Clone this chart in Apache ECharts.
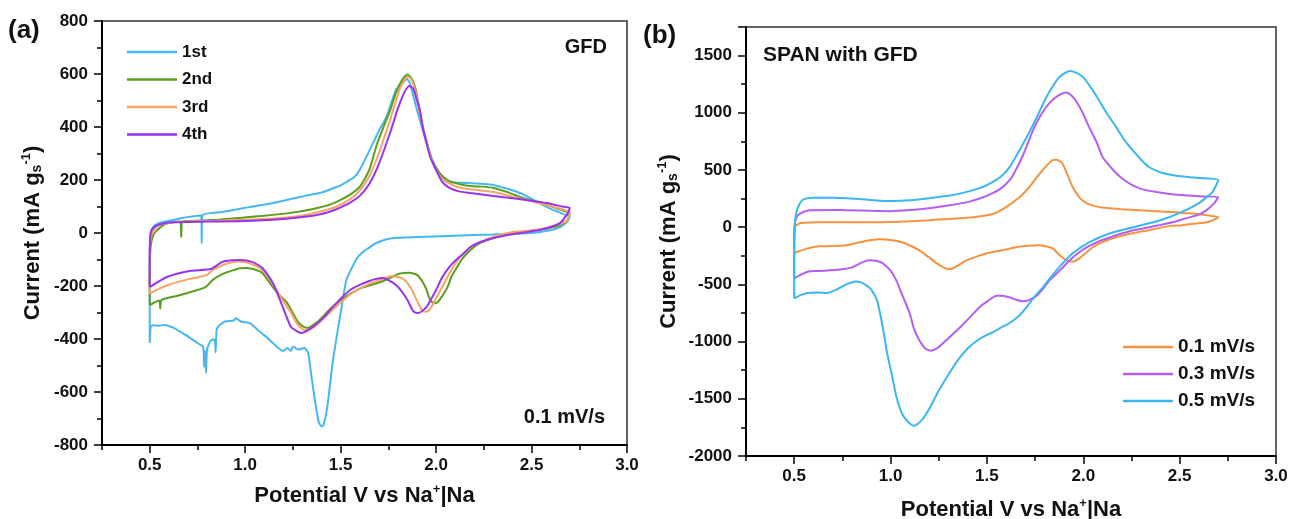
<!DOCTYPE html>
<html>
<head>
<meta charset="utf-8">
<script src="https://cdn.jsdelivr.net/npm/echarts@6/dist/echarts.min.js"></script>
<style>
html,body{margin:0;padding:0;background:#fff;}
#chart{width:1289px;height:519px;}
</style>
</head>
<body>
<div id="chart"></div>
<script>
// ---------- Data: panel (a) GFD at 0.1 mV/s, [potential V, current mA/g] ----------
const cycle1 = [[2.6,10],[2.53,2],[2.45,-2],[2.3,-6],[2.1,-10],[1.95,-14],[1.85,-17],[1.77,-20],[1.72,-28],[1.68,-40],[1.65,-55],[1.62,-70],[1.6,-83],[1.585,-95],[1.56,-130],[1.53,-177],[1.5,-302],[1.46,-479],[1.43,-657],[1.41,-725],[1.4,-730],[1.385,-712],[1.365,-630],[1.345,-530],[1.33,-453],[1.31,-434],[1.28,-440],[1.25,-428],[1.24,-445],[1.22,-434],[1.2,-445],[1.18,-438],[1.145,-415],[1.11,-392],[1.06,-362],[1.025,-340],[0.98,-335],[0.95,-322],[0.94,-330],[0.9,-333],[0.88,-340],[0.86,-352],[0.85,-366],[0.845,-450],[0.84,-402],[0.82,-405],[0.8,-441],[0.795,-528],[0.79,-445],[0.785,-505],[0.78,-430],[0.75,-415],[0.7,-390],[0.67,-377],[0.62,-356],[0.57,-347],[0.55,-350],[0.52,-348],[0.505,-355],[0.5,-415],[0.5,-350],[0.5,-100],[0.505,0],[0.52,25],[0.55,38],[0.6,46],[0.67,57],[0.72,62],[0.77,67],[0.772,-38],[0.776,66],[0.88,79],[1.0,95],[1.145,113],[1.3,138],[1.41,155],[1.45,166],[1.5,180],[1.53,192],[1.57,210],[1.6,238],[1.65,310],[1.7,385],[1.74,438],[1.79,540],[1.83,570],[1.845,582],[1.86,570],[1.88,520],[1.9,464],[1.95,340],[2.0,238],[2.06,192],[2.16,189],[2.25,185],[2.3,181],[2.44,151],[2.58,98],[2.68,68],[2.7,62],[2.69,45],[2.65,22],[2.6,10]];
const cycle2 = [[0.5,-272],[0.5,-150],[0.505,-50],[0.52,-5],[0.54,11],[0.57,30],[0.6,38],[0.66,43],[0.665,-15],[0.67,43],[0.71,45],[0.85,50],[0.97,57],[1.1,65],[1.23,75],[1.35,90],[1.44,106],[1.5,125],[1.55,145],[1.6,174],[1.65,238],[1.69,335],[1.73,410],[1.76,464],[1.79,530],[1.82,575],[1.85,598],[1.87,585],[1.89,550],[1.91,480],[1.93,400],[1.96,320],[1.98,275],[2.02,225],[2.06,200],[2.12,185],[2.18,177],[2.24,175],[2.3,170],[2.37,155],[2.44,136],[2.51,120],[2.58,106],[2.65,88],[2.7,75],[2.69,50],[2.65,30],[2.59,18],[2.53,11],[2.46,5],[2.39,0],[2.33,-12],[2.27,-26],[2.22,-42],[2.18,-64],[2.14,-95],[2.11,-128],[2.08,-165],[2.06,-204],[2.03,-240],[2.01,-260],[1.99,-265],[1.97,-255],[1.95,-215],[1.93,-185],[1.9,-158],[1.86,-150],[1.83,-151],[1.8,-155],[1.77,-166],[1.71,-185],[1.65,-198],[1.6,-210],[1.55,-230],[1.48,-264],[1.44,-290],[1.39,-328],[1.35,-350],[1.33,-358],[1.31,-355],[1.29,-345],[1.27,-328],[1.22,-264],[1.18,-235],[1.145,-204],[1.09,-151],[1.05,-138],[1.01,-132],[0.97,-133],[0.94,-140],[0.88,-155],[0.83,-177],[0.8,-200],[0.78,-208],[0.75,-215],[0.66,-234],[0.57,-250],[0.56,-255],[0.555,-285],[0.55,-255],[0.5,-272]];
const cycle3 = [[0.5,-230],[0.5,-100],[0.505,-20],[0.52,10],[0.55,30],[0.6,38],[0.7,43],[0.85,46],[1.0,50],[1.2,58],[1.3,66],[1.4,82],[1.48,100],[1.55,128],[1.6,160],[1.65,215],[1.7,300],[1.76,430],[1.81,545],[1.84,583],[1.855,590],[1.87,580],[1.89,540],[1.91,470],[1.93,400],[1.96,320],[1.98,270],[2.02,215],[2.06,190],[2.12,172],[2.18,165],[2.3,155],[2.44,130],[2.58,105],[2.68,85],[2.7,75],[2.69,50],[2.65,35],[2.53,12],[2.39,2],[2.27,-22],[2.2,-45],[2.15,-72],[2.11,-105],[2.08,-140],[2.05,-180],[2.02,-220],[1.99,-260],[1.97,-285],[1.95,-297],[1.93,-295],[1.91,-270],[1.89,-240],[1.87,-210],[1.84,-180],[1.81,-168],[1.76,-163],[1.7,-178],[1.65,-192],[1.6,-210],[1.55,-232],[1.5,-262],[1.45,-295],[1.4,-330],[1.36,-355],[1.32,-367],[1.3,-362],[1.27,-340],[1.24,-300],[1.2,-258],[1.16,-210],[1.13,-175],[1.09,-140],[1.05,-122],[1.0,-110],[0.97,-108],[0.92,-112],[0.88,-122],[0.83,-140],[0.8,-158],[0.76,-166],[0.7,-175],[0.6,-195],[0.55,-210],[0.5,-230]];
const cycle4 = [[0.5,-204],[0.5,-80],[0.505,0],[0.52,20],[0.55,32],[0.6,40],[0.8,43],[1.0,45],[1.2,53],[1.3,60],[1.4,72],[1.46,85],[1.5,97],[1.55,115],[1.6,140],[1.65,185],[1.7,260],[1.76,380],[1.8,470],[1.83,525],[1.85,550],[1.86,555],[1.88,545],[1.9,500],[1.915,464],[1.93,400],[1.95,340],[1.97,285],[2.0,238],[2.03,195],[2.07,170],[2.12,157],[2.18,151],[2.3,140],[2.39,132],[2.5,122],[2.58,113],[2.66,100],[2.7,94],[2.69,75],[2.65,38],[2.58,18],[2.48,4],[2.39,-6],[2.3,-19],[2.23,-35],[2.18,-53],[2.14,-80],[2.1,-105],[2.07,-128],[2.03,-170],[2.0,-215],[1.97,-255],[1.95,-279],[1.92,-298],[1.9,-302],[1.88,-295],[1.85,-253],[1.82,-220],[1.79,-196],[1.75,-178],[1.72,-170],[1.68,-174],[1.65,-181],[1.6,-196],[1.55,-215],[1.5,-248],[1.46,-279],[1.42,-312],[1.38,-340],[1.34,-362],[1.31,-374],[1.29,-377],[1.27,-370],[1.24,-355],[1.2,-285],[1.17,-230],[1.145,-189],[1.09,-132],[1.04,-110],[0.97,-102],[0.93,-103],[0.88,-109],[0.82,-136],[0.71,-143],[0.59,-166],[0.5,-204]];

// ---------- Data: panel (b) SPAN with GFD at three scan rates ----------
const rate01 = [[0.5,-228],[0.5,-100],[0.502,0],[0.53,35],[0.58,42],[0.63,44],[0.8,44],[0.944,44],[1.1,52],[1.2,61],[1.3,72],[1.43,88],[1.5,105],[1.55,128],[1.6,175],[1.67,263],[1.72,350],[1.76,439],[1.8,520],[1.84,585],[1.86,590],[1.89,561],[1.92,450],[1.945,351],[1.98,260],[2.016,210],[2.07,180],[2.12,167],[2.2,157],[2.29,149],[2.38,140],[2.46,132],[2.53,123],[2.6,114],[2.66,100],[2.7,88],[2.67,60],[2.64,44],[2.57,30],[2.51,18],[2.43,5],[2.34,-26],[2.25,-55],[2.17,-88],[2.1,-130],[2.05,-175],[2.01,-230],[1.98,-272],[1.95,-300],[1.93,-300],[1.91,-285],[1.89,-263],[1.86,-215],[1.84,-184],[1.8,-165],[1.77,-158],[1.71,-162],[1.65,-175],[1.6,-195],[1.55,-210],[1.5,-228],[1.45,-255],[1.395,-289],[1.35,-335],[1.31,-368],[1.28,-355],[1.24,-316],[1.2,-265],[1.15,-202],[1.1,-160],[1.06,-132],[1.0,-112],[0.944,-105],[0.89,-115],[0.84,-132],[0.77,-158],[0.7,-165],[0.63,-167],[0.57,-185],[0.51,-219],[0.5,-228]];
const rate03 = [[0.5,-447],[0.5,-200],[0.505,50],[0.52,105],[0.55,135],[0.58,149],[0.7,150],[0.77,149],[0.9,143],[1.0,140],[1.1,150],[1.2,166],[1.3,190],[1.4,219],[1.47,255],[1.53,298],[1.57,335],[1.62,415],[1.65,500],[1.69,640],[1.74,850],[1.78,980],[1.825,1087],[1.87,1150],[1.91,1178],[1.94,1150],[1.965,1096],[2.0,990],[2.03,877],[2.07,740],[2.1,614],[2.14,530],[2.17,474],[2.21,415],[2.255,368],[2.3,335],[2.38,307],[2.45,290],[2.51,281],[2.6,270],[2.7,263],[2.68,210],[2.64,149],[2.6,110],[2.535,79],[2.47,45],[2.395,18],[2.33,-5],[2.26,-26],[2.2,-55],[2.14,-88],[2.08,-125],[2.02,-175],[1.97,-230],[1.93,-289],[1.88,-375],[1.825,-465],[1.79,-540],[1.76,-596],[1.72,-635],[1.69,-648],[1.66,-638],[1.62,-615],[1.58,-600],[1.55,-600],[1.5,-650],[1.46,-701],[1.41,-790],[1.36,-877],[1.31,-955],[1.27,-1017],[1.24,-1060],[1.21,-1079],[1.18,-1060],[1.15,-991],[1.12,-880],[1.1,-754],[1.06,-590],[1.03,-465],[1.0,-380],[0.96,-316],[0.93,-295],[0.89,-289],[0.85,-310],[0.8,-351],[0.74,-370],[0.685,-377],[0.63,-383],[0.58,-386],[0.54,-410],[0.5,-447]];
const rate05 = [[0.5,-623],[0.5,-300],[0.502,0],[0.51,120],[0.53,210],[0.55,245],[0.6,258],[0.7,258],[0.77,254],[0.9,238],[1.0,228],[1.1,235],[1.2,254],[1.3,275],[1.37,298],[1.45,335],[1.5,368],[1.57,439],[1.62,530],[1.67,675],[1.72,830],[1.76,965],[1.8,1110],[1.84,1228],[1.88,1320],[1.93,1365],[1.97,1345],[2.0,1310],[2.04,1220],[2.08,1114],[2.12,1000],[2.17,877],[2.21,770],[2.255,675],[2.3,590],[2.34,526],[2.4,480],[2.46,456],[2.53,440],[2.6,430],[2.7,412],[2.67,307],[2.6,210],[2.51,132],[2.4,61],[2.26,0],[2.14,-53],[2.03,-132],[1.945,-228],[1.88,-340],[1.84,-420],[1.79,-526],[1.75,-600],[1.71,-690],[1.67,-770],[1.62,-835],[1.57,-880],[1.53,-920],[1.49,-950],[1.45,-990],[1.4,-1060],[1.35,-1160],[1.3,-1290],[1.25,-1430],[1.2,-1590],[1.17,-1670],[1.14,-1720],[1.12,-1736],[1.09,-1700],[1.06,-1631],[1.03,-1480],[1.01,-1316],[0.98,-1080],[0.96,-877],[0.93,-640],[0.9,-545],[0.875,-509],[0.85,-485],[0.82,-474],[0.77,-500],[0.72,-545],[0.67,-575],[0.62,-570],[0.57,-575],[0.53,-596],[0.5,-623]];

const namesA = ['1st','2nd','3rd','4th'];
const namesB = ['0.1 mV/s','0.3 mV/s','0.5 mV/s'];
const xMajorTicks = [0.5,1.0,1.5,2.0,2.5,3.0];

// ---------- Styling ----------
const FONT = 'Liberation Sans, Arial, sans-serif';
const colorsA = ['#45b7f2','#5a9f1c','#f7a366','#9933f2'];
const colorsB = ['#f7923e','#b45ef6','#3ab6f6'];

// main x axis: long ticks + labels at the 0.5 V values
function xAxisMain(gridIndex, gap){
  return {
    type:'value', gridIndex, min:0.25, max:3.0, interval:0.25, position:'bottom',
    name:'Potential V vs Na{sup|+}|Na', nameLocation:'middle', nameGap:gap,
    nameTextStyle:{fontSize:22, fontWeight:'bold', color:'#111', fontFamily:FONT,
      rich:{sup:{fontSize:13, fontWeight:'bold', color:'#111', fontFamily:FONT, padding:[0,0,13,0]}}},
    axisLine:{show:true, onZero:false, lineStyle:{color:'#000', width:2}},
    axisTick:{show:true, inside:false, length:8, customValues:xMajorTicks, lineStyle:{color:'#000', width:1.5}},
    splitLine:{show:false},
    axisLabel:{fontSize:17, fontWeight:'bold', color:'#111', fontFamily:FONT, margin:12, customValues:xMajorTicks,
      formatter:v => v.toFixed(1)}
  };
}
// overlay x axis: short ticks every 0.25 V
function xAxisMinor(gridIndex){
  return {
    type:'value', gridIndex, min:0.25, max:3.0, interval:0.25, position:'bottom',
    axisLine:{show:false, onZero:false},
    axisTick:{show:true, inside:false, length:5, lineStyle:{color:'#000', width:1.5}},
    axisLabel:{show:false}, splitLine:{show:false}
  };
}
function yAxisCfg(gridIndex, min, max, step, gap){
  return {
    type:'value', gridIndex, min, max, interval:step,
    name:'Current (mA g{sub|s}{sup|-1})', nameLocation:'middle', nameGap:gap, nameRotate:90,
    nameTextStyle:{fontSize:22, fontWeight:'bold', color:'#111', fontFamily:FONT,
      rich:{
        sub:{fontSize:14, fontWeight:'bold', color:'#111', fontFamily:FONT, padding:[9,0,0,0]},
        sup:{fontSize:13, fontWeight:'bold', color:'#111', fontFamily:FONT, padding:[0,0,13,0]}
      }},
    axisLine:{show:true, onZero:false, lineStyle:{color:'#000', width:2}},
    axisTick:{show:true, inside:false, length:8, lineStyle:{color:'#000', width:1.5}},
    minorTick:{show:true, splitNumber:2, length:5, lineStyle:{color:'#000', width:1.5}},
    splitLine:{show:false},
    axisLabel:{fontSize:17, fontWeight:'bold', color:'#111', fontFamily:FONT, margin:14,
      formatter:v => (Math.abs(v % step) < 1e-6 ? String(v) : '')}
  };
}
function lineSeries(name, data, color, xi, yi){
  return {type:'line', name, data, xAxisIndex:xi, yAxisIndex:yi, symbol:'none', smooth:0.2,
    lineStyle:{color, width:2}, itemStyle:{color}, emphasis:{disabled:true}, clip:true};
}
function legendCfg(names, left, top, fs, gap){
  return {data:names.map(n => ({name:n, icon:'rect'})), orient:'vertical', left, top, padding:0,
    itemWidth:50, itemHeight:2.5, itemGap:gap, selectedMode:false,
    itemStyle:{borderWidth:0},
    textStyle:{fontSize:fs, fontWeight:'bold', color:'#111', lineHeight:20, height:20, fontFamily:FONT}};
}

const chart = echarts.init(document.getElementById('chart'), null, {renderer:'canvas'});
chart.setOption({
  animation:false,
  backgroundColor:'#fff',
  textStyle:{fontFamily:FONT},
  grid:[
    {left:102, top:21, width:525, height:424, outerBoundsMode:'none', containLabel:false, show:true, borderColor:'#333', borderWidth:1.5, backgroundColor:'transparent'},
    {left:746, top:27, width:530, height:429, outerBoundsMode:'none', containLabel:false, show:true, borderColor:'#333', borderWidth:1.5, backgroundColor:'transparent'}
  ],
  xAxis:[xAxisMain(0, 38), xAxisMain(1, 41), xAxisMinor(0), xAxisMinor(1)],
  yAxis:[yAxisCfg(0, -800, 800, 200, 56), yAxisCfg(1, -2000, 1750, 500, 64)],
  legend:[legendCfg(namesA, 127, 42, 17, 7.5), legendCfg(namesB, 1123, 337, 19, 7)],
  graphic:[
    {type:'text', x:8, y:31, style:{text:'(a)', fontSize:26, fontWeight:'bold', fill:'#111', fontFamily:FONT, align:'left', verticalAlign:'middle'}},
    {type:'text', x:643, y:36, style:{text:'(b)', fontSize:26, fontWeight:'bold', fill:'#111', fontFamily:FONT, align:'left', verticalAlign:'middle'}},
    {type:'text', x:607, y:47, style:{text:'GFD', fontSize:20, fontWeight:'bold', fill:'#111', fontFamily:FONT, align:'right', verticalAlign:'middle'}},
    {type:'text', x:605, y:417, style:{text:'0.1 mV/s', fontSize:20, fontWeight:'bold', fill:'#111', fontFamily:FONT, align:'right', verticalAlign:'middle'}},
    {type:'text', x:763, y:55, style:{text:'SPAN with GFD', fontSize:21, fontWeight:'bold', fill:'#111', fontFamily:FONT, align:'left', verticalAlign:'middle'}}
  ],
  series:[
    lineSeries(namesA[0], cycle1, colorsA[0], 0, 0),
    lineSeries(namesA[1], cycle2, colorsA[1], 0, 0),
    lineSeries(namesA[2], cycle3, colorsA[2], 0, 0),
    lineSeries(namesA[3], cycle4, colorsA[3], 0, 0),
    lineSeries(namesB[0], rate01, colorsB[0], 1, 1),
    lineSeries(namesB[1], rate03, colorsB[1], 1, 1),
    lineSeries(namesB[2], rate05, colorsB[2], 1, 1)
  ]
});
</script>
</body>
</html>
